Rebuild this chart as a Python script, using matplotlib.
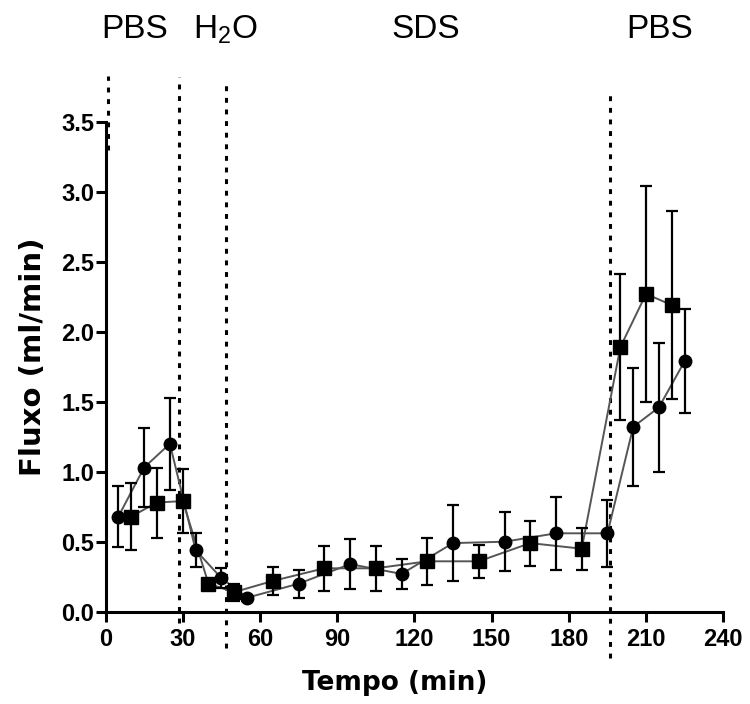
import numpy as np
import matplotlib.pyplot as plt

plt.rcParams['font.family'] = ['Liberation Sans', 'DejaVu Sans']
plt.rcParams['mathtext.fontset'] = 'custom'
plt.rcParams['mathtext.rm'] = 'Liberation Sans'

# circle series
t_circ = [5, 15, 25, 35, 45, 55, 75, 95, 115, 135, 155, 175, 195, 205, 215, 225]
y_circ = [0.68, 1.03, 1.20, 0.44, 0.24, 0.10, 0.20, 0.34, 0.27, 0.49, 0.50, 0.56, 0.56, 1.32, 1.46, 1.79]
e_circ = [0.22, 0.28, 0.33, 0.12, 0.07, 0.02, 0.10, 0.18, 0.11, 0.27, 0.21, 0.26, 0.24, 0.42, 0.46, 0.37]

# square series
t_sq = [10, 20, 30, 40, 50, 65, 85, 105, 125, 145, 165, 185, 200, 210, 220]
y_sq = [0.68, 0.78, 0.79, 0.20, 0.14, 0.22, 0.31, 0.31, 0.36, 0.36, 0.49, 0.45, 1.89, 2.27, 2.19]
e_sq = [0.24, 0.25, 0.23, 0.03, 0.06, 0.10, 0.16, 0.16, 0.17, 0.12, 0.16, 0.15, 0.52, 0.77, 0.67]

# phase changes (min) and labels
phase_x = [1, 28.7, 46.7, 196]
phase_top = [3.83, 3.82, 3.78, 3.70]
phase_bot = [3.3, -0.08, -0.26, -0.33]
phase_labels = ["PBS", "H$_\\mathregular{2}$O", "SDS", "PBS"]
label_px = [135, 225, 426, 660]

fig = plt.figure(figsize=(7.5, 7.04), dpi=100)
ax = fig.add_axes([0.1407, 0.1311, 0.8237, 0.696])

for t, y, e, m, ms in [(t_circ, y_circ, e_circ, 'o', 9), (t_sq, y_sq, e_sq, 's', 9.5)]:
    ax.plot(t, y, color='#555555', lw=1.4, zorder=2)
    ax.errorbar(t, y, yerr=e, fmt='none', ecolor='black', elinewidth=1.6,
                capsize=4.5, capthick=1.6, zorder=3)
    ax.plot(t, y, linestyle='none', marker=m, ms=ms, color='black', zorder=4)

for x, top, bot in zip(phase_x, phase_top, phase_bot):
    ax.plot([x, x], [bot, top], color='black', lw=2.2, linestyle=(0, (1.6, 2.2)),
            clip_on=False, zorder=1)

for lab, px in zip(phase_labels, label_px):
    fig.text(px / 750, 1 - 30 / 704, lab, fontsize=24, ha='center', va='center')

ax.set_xlim(0, 240)
ax.set_ylim(0, 3.5)
ax.set_xticks(np.arange(0, 241, 30))
ax.set_yticks(np.arange(0, 3.51, 0.5))
ax.set_yticklabels([f"{v:.1f}" for v in np.arange(0, 3.51, 0.5)])

for s in ['top', 'right']:
    ax.spines[s].set_visible(False)
for s in ['left', 'bottom']:
    ax.spines[s].set_linewidth(2.2)

ax.tick_params(axis='both', length=7, width=2.2, labelsize=17)
ax.tick_params(axis='x', pad=5)
ax.tick_params(axis='y', pad=1)
for lab in ax.get_xticklabels() + ax.get_yticklabels():
    lab.set_fontweight('bold')

fig.text(395 / 750, 1 - 683 / 704, "Tempo (min)", fontsize=19, fontweight='bold',
         family='DejaVu Sans', ha='center', va='center')
fig.text(33 / 750, 1 - 357 / 704, "Fluxo (ml/min)", fontsize=21, fontweight='bold',
         family='DejaVu Sans', ha='center', va='center', rotation=90)

fig.savefig("out.png", dpi=100)
